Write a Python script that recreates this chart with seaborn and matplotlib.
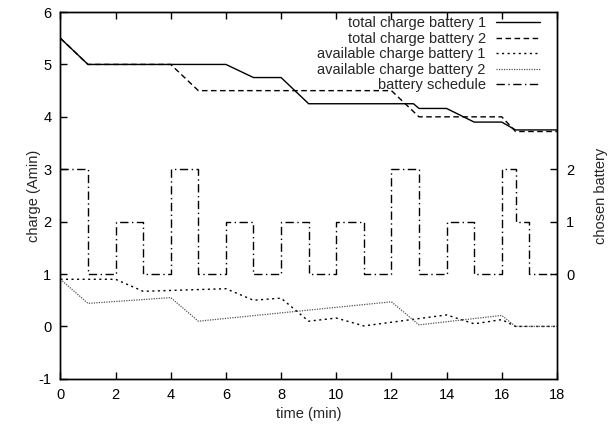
import pandas as pd
import numpy as np
import matplotlib
matplotlib.use("Agg")
import matplotlib.pyplot as plt
import seaborn as sns

# total charge, per battery (time in min, charge in Amin)
total1_t = [0, 1, 6, 7, 8, 9, 12.8, 13, 14, 15, 16, 16.5, 18]
total1_c = [5.5, 5.0, 5.0, 4.75, 4.75, 4.25, 4.25, 4.16, 4.16, 3.9, 3.9, 3.75, 3.75]
total2_t = [0, 1, 4, 5, 12, 13, 16, 16.5, 18]
total2_c = [5.5, 5.0, 5.0, 4.5, 4.5, 4.0, 4.0, 3.72, 3.72]

# available charge, per battery
avail1_t = [0, 2, 3, 6, 7, 8, 9, 10, 11, 14, 15, 16, 16.5, 18]
avail1_c = [0.9, 0.9, 0.67, 0.72, 0.5, 0.54, 0.1, 0.16, 0.01, 0.22, 0.05, 0.13, 0.0, 0.0]
avail2_t = [0, 1, 4, 5, 12, 13, 16, 16.5, 18]
avail2_c = [0.9, 0.44, 0.55, 0.1, 0.47, 0.03, 0.21, 0.0, 0.0]

# battery schedule (right axis), step function
sched_t = [0, 1, 2, 3, 4, 5, 6, 7, 8, 9, 10, 11, 12, 13, 14, 15, 16, 16.5, 17, 18]
sched_b = [2, 0, 1, 0, 2, 0, 1, 0, 1, 0, 1, 0, 2, 0, 1, 0, 2, 1, 0, 0]

sns.set_style("ticks")
plt.rcParams['font.family'] = ['Liberation Sans', 'DejaVu Sans']
plt.rcParams['font.size'] = 10.5
plt.rcParams['axes.unicode_minus'] = False

fig, ax = plt.subplots(figsize=(6.1, 4.3), dpi=100)
fig.subplots_adjust(left=0.099, right=0.913, top=0.972, bottom=0.119)
ax2 = ax.twinx()

sns.lineplot(x=total1_t, y=total1_c, ax=ax, color="black", lw=1.0,
             label="total charge battery 1", legend=False)
sns.lineplot(x=total2_t, y=total2_c, ax=ax, color="black", lw=1.0,
             linestyle=(0, (4, 2.5)), label="total charge battery 2", legend=False)
sns.lineplot(x=avail1_t, y=avail1_c, ax=ax, color="black", lw=1.0,
             linestyle=(0, (1.5, 2.5)), label="available charge battery 1", legend=False)
sns.lineplot(x=avail2_t, y=avail2_c, ax=ax, color="#555555", lw=0.9,
             linestyle=(0, (1, 1)), label="available charge battery 2", legend=False)
sns.lineplot(x=sched_t, y=sched_b, ax=ax2, color="black", lw=1.0,
             linestyle=(0, (6, 2.5, 1, 2.5)), drawstyle="steps-post",
             label="battery schedule", legend=False)

ax.set_xlim(0, 18)
ax.set_ylim(-1, 6)
ax.set_xticks(np.arange(0, 19, 2))
ax.set_yticks(np.arange(-1, 7, 1))
ax2.set_ylim(-2, 5)
ax2.set_yticks([0, 1, 2])

ax.set_xlabel("time (min)")
ax.set_ylabel("charge (Amin)")
ax2.set_ylabel("chosen battery")
ax.yaxis.set_label_coords(-0.040, 0.5)
ax2.yaxis.set_label_coords(1.074, 0.5)

ax.tick_params(direction="in", length=5, width=1, pad=6.5, top=True, right=False, colors="black")
ax2.tick_params(direction="in", length=5, width=1, pad=6.5, colors="black")
for a in (ax, ax2):
    for s in a.spines.values():
        s.set_visible(True)
        s.set_color("black")
        s.set_linewidth(1.0)

h1, l1 = ax.get_legend_handles_labels()
h2, l2 = ax2.get_legend_handles_labels()
leg = ax2.legend(h1 + h2, l1 + l2, loc="upper right", bbox_to_anchor=(0.977, 1.004),
                 frameon=False, markerfirst=False, handlelength=3.0, handletextpad=0.7,
                 labelspacing=0.1, borderaxespad=0.0, fontsize=10.5)
for t in leg.get_texts():
    t.set_ha("right")
leg._legend_box.align = "right"

fig.savefig("out.png", dpi=100)
